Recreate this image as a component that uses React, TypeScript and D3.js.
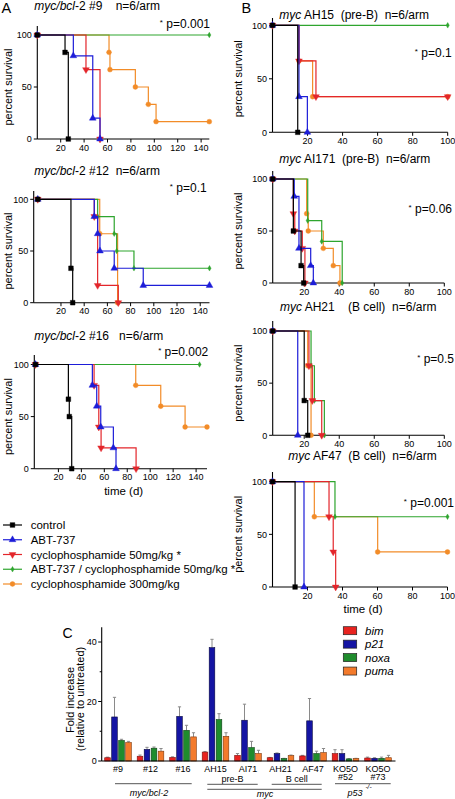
import React from "react";
import * as d3 from "d3";

const FONT = "'Liberation Sans', Arial, Helvetica, sans-serif";

// ---------- survival data: [day, percent survival] (start, each step, end) ----------
const treatmentNames = [
  "control",
  "ABT-737",
  "cyclophosphamide 50mg/kg *",
  "ABT-737 / cyclophosphamide 50mg/kg *",
  "cyclophosphamide 300mg/kg",
];
const treatmentColors = ["#000000", "#1d1dd8", "#e3262b", "#2ea52e", "#f28c28"];

// myc/bcl-2 #9
const bcl9Control = [[0, 100], [23.7, 83.3], [26.5, 0]];
const bcl9Abt = [[0, 100], [30.8, 80], [47.4, 20], [53.6, 0]];
const bcl9Cyc50 = [[0, 100], [41.6, 66.7], [53.6, 0]];
const bcl9Combo = [[0, 100], [147, 100]];
const bcl9Cyc300 = [[0, 100], [61.3, 83.3], [62.1, 66.7], [83.8, 50], [94.9, 33.3], [101.5, 16.7], [147, 16.7]];

// myc/bcl-2 #12
const bcl12Control = [[0, 100], [28.6, 33.3], [30.1, 0]];
const bcl12Abt = [[0, 100], [48.7, 83.3], [51.6, 66.7], [53.6, 50], [65.9, 33.3], [90.9, 16.7], [148, 16.7]];
const bcl12Cyc50 = [[0, 100], [48.7, 83.3], [51.6, 16.7], [69.4, 0]];
const bcl12Combo = [[0, 100], [51.6, 83.3], [65.9, 66.7], [68, 50], [82.9, 33.3], [148, 33.3]];
const bcl12Cyc300 = [[0, 100], [53.4, 66.7], [68.8, 0]];

// myc/bcl-2 #16
const bcl16Control = [[0, 100], [28.7, 66.7], [29.5, 50], [31.6, 0]];
const bcl16Abt = [[0, 100], [49.6, 80], [53.4, 60], [56.9, 40], [67.9, 20], [70.2, 0]];
const bcl16Cyc50 = [[0, 100], [51.1, 80], [55.2, 40], [57.2, 20], [87.7, 0]];
const bcl16Combo = [[0, 100], [143, 100]];
const bcl16Cyc300 = [[0, 100], [87.4, 80], [109.2, 60], [130.4, 40], [149.5, 40]];

// myc AH15 (pre-B)
const ah15Control = [[0, 100], [14.4, 0]];
const ah15Abt = [[0, 100], [15.1, 33.3], [19.9, 0]];
const ah15Cyc50 = [[0, 100], [15.1, 66.7], [24.8, 33.3], [100, 33.3]];
const ah15Combo = [[0, 100], [100, 100]];
const ah15Cyc300 = [[0, 100], [15.1, 66.7], [22.9, 33.3], [100, 33.3]];

// myc AI171 (pre-B)
const ai171Control = [[2, 100], [13.8, 50], [18.2, 16.7], [19.7, 0]];
const ai171Abt = [[2, 100], [14.3, 83.3], [17, 33.3], [23.7, 16.7], [25.2, 0]];
const ai171Cyc50 = [[2, 100], [13.8, 66.7], [14.6, 50], [18.9, 33.3], [20.4, 0]];
const ai171Combo = [[2, 100], [22, 60], [30, 40], [41.7, 0]];
const ai171Cyc300 = [[2, 100], [21.4, 66.7], [22.3, 50], [30.9, 33.3], [36.6, 16.7], [40.4, 0]];

// myc AH21 (B cell)
const ah21Control = [[2, 100], [20, 33.3], [22, 0]];
const ah21Abt = [[2, 100], [16.3, 0]];
const ah21Cyc50 = [[2, 100], [22.7, 66.7], [24.6, 33.3], [30, 0]];
const ah21Combo = [[2, 100], [23.9, 66.7], [25.8, 33.3], [31.5, 0]];
const ah21Cyc300 = [[2, 100], [22, 66.7], [23.9, 0]];

// myc AF47 (B cell)
const af47Control = [[0, 100], [12.9, 0]];
const af47Abt = [[0, 100], [18, 0]];
const af47Cyc50 = [[0, 100], [32.3, 66.7], [34.7, 33.3], [36.1, 0]];
const af47Combo = [[0, 100], [35.7, 66.7], [100, 66.7]];
const af47Cyc300 = [[0, 100], [23.9, 66.7], [60.1, 33.3], [100, 33.3]];

const survivalTicks = [0, 50, 100];

// ---------- bar chart data ----------
const geneNames = ["bim", "p21", "noxa", "puma"];
const geneColors = ["#e8231f", "#1414a3", "#1f8c2d", "#f37a2b"];
const geneStrokes = ["#7a1010", "#07073f", "#0b3f12", "#7f3608"];
const sampleNames = ["#9", "#12", "#16", "AH15", "AI71", "AH21", "AF47", "KO5O", "KO5O"];
const sampleSubNames = ["", "", "", "", "", "", "", "#52", "#73"];
const bimValues = [1.1, 1.6, 1.2, 3.0, 1.9, 1.1, 1.7, 2.5, 1.0];
const p21Values = [14.8, 3.9, 15.0, 38.1, 13.7, 2.5, 13.5, 2.5, 0.9];
const noxaValues = [6.9, 4.3, 10.3, 13.9, 4.5, 0.8, 2.5, 0.7, 0.9];
const pumaValues = [6.2, 3.3, 8.1, 8.3, 2.5, 1.8, 2.8, 0.8, 1.1];
const bimErrors = [0.2, 0.4, 0.2, 0.2, 0.6, 0.1, 0.2, 1.3, 0.3];
const p21Errors = [6.6, 0.7, 3.2, 2.8, 5.4, 0.2, 7.5, 1.3, 0.2];
const noxaErrors = [0.4, 0.4, 1.7, 2.0, 2.1, 0.1, 0.8, 0.1, 0.4];
const pumaErrors = [0.4, 0.9, 1.4, 1.2, 1.1, 0.2, 1.4, 0.1, 0.8];
const barTicks = [0, 20, 40];
const barMinorTicks = [10, 30];

// ---------- layout ----------
type Part = { t: string; i?: boolean };

const panels = [
  {
    series: [bcl9Control, bcl9Abt, bcl9Cyc50, bcl9Combo, bcl9Cyc300],
    xDomain: [0, 147], xRange: [37.3, 209.3], yRange: [139, 35], yTop: 26, xMaxTick: 140,
    titleX: 34.3, titleY: 10,
    title: [{ t: "myc/bcl", i: true }, { t: "-2 #9    n=6/arm" }] as Part[],
    p: "p=0.001", pX: 210, pY: 28, labelX: 11.5,
  },
  {
    series: [bcl12Control, bcl12Abt, bcl12Cyc50, bcl12Combo, bcl12Cyc300],
    xDomain: [-3.5, 148], xRange: [33.7, 209.5], yRange: [302.7, 199.3], yTop: 191, xMaxTick: 140,
    titleX: 34.3, titleY: 175,
    title: [{ t: "myc/bcl", i: true }, { t: "-2 #12  n=6/arm" }] as Part[],
    p: "p=0.1", pX: 206.7, pY: 192, labelX: 11.5,
  },
  {
    series: [bcl16Control, bcl16Abt, bcl16Cyc50, bcl16Combo, bcl16Cyc300],
    xDomain: [-1, 149.5], xRange: [34.3, 207], yRange: [468.7, 364.5], yTop: 355, xMaxTick: 140,
    titleX: 34.3, titleY: 340,
    title: [{ t: "myc/bcl", i: true }, { t: "-2 #16   n=6/arm" }] as Part[],
    p: "p=0.002", pX: 208.3, pY: 356, labelX: 11.5, xLabel: true,
  },
  {
    series: [ah15Control, ah15Abt, ah15Cyc50, ah15Combo, ah15Cyc300],
    xDomain: [0, 100], xRange: [272.5, 447.7], yRange: [132.3, 25.3], yTop: 18, xMaxTick: 100,
    titleX: 279.3, titleY: 18.5,
    title: [{ t: "myc", i: true }, { t: " AH15  (pre-B)  n=6/arm" }] as Part[],
    p: "p=0.1", pX: 451.7, pY: 56.5, labelX: 241.5,
  },
  {
    series: [ai171Control, ai171Abt, ai171Cyc50, ai171Combo, ai171Cyc300],
    xDomain: [2, 100], xRange: [272.7, 444.3], yRange: [283, 179], yTop: 171, xMaxTick: 100,
    titleX: 279.3, titleY: 162.5,
    title: [{ t: "myc", i: true }, { t: " AI171  (pre-B)  n=6/arm" }] as Part[],
    p: "p=0.06", pX: 452, pY: 212.5, labelX: 241.5,
  },
  {
    series: [ah21Control, ah21Abt, ah21Cyc50, ah21Combo, ah21Cyc300],
    xDomain: [2, 100], xRange: [272.7, 444.3], yRange: [435.3, 331], yTop: 321, xMaxTick: 100,
    titleX: 280, titleY: 311,
    title: [{ t: "myc", i: true }, { t: " AH21    (B cell)  n=6/arm" }] as Part[],
    p: "p=0.5", pX: 454, pY: 362.5, labelX: 241.5,
  },
  {
    series: [af47Control, af47Abt, af47Cyc50, af47Combo, af47Cyc300],
    xDomain: [0, 100], xRange: [272.5, 447.5], yRange: [587, 481.7], yTop: 472, xMaxTick: 100,
    titleX: 288.3, titleY: 459.5,
    title: [{ t: "myc", i: true }, { t: " AF47  (B cell)  n=6/arm" }] as Part[],
    p: "p=0.001", pX: 454, pY: 507, labelX: 241.5, xLabel: true,
  },
];

const drawOrder = [4, 3, 2, 1, 0];

function Marker({ k, x, y, color }: { k: number; x: number; y: number; color: string }) {
  const sym =
    k === 0 ? d3.symbol(d3.symbolSquare, 22)
    : k === 1 || k === 2 ? d3.symbol(d3.symbolTriangle, 20)
    : k === 3 ? d3.symbol(d3.symbolDiamond, 9)
    : d3.symbol(d3.symbolCircle, 19);
  const rot = k === 2 ? " rotate(180)" : "";
  return <path d={sym() || ""} transform={`translate(${x},${y})${rot}`} fill={color} stroke={color} strokeWidth={0.4} />;
}

function SurvivalPanel({ cfg }: { cfg: (typeof panels)[number] }) {
  const x = d3.scaleLinear().domain(cfg.xDomain).range(cfg.xRange);
  const y = d3.scaleLinear().domain([0, 100]).range(cfg.yRange);
  const line = d3
    .line<number[]>()
    .x((d) => x(d[0]))
    .y((d) => y(d[1]))
    .curve(d3.curveStepAfter);
  const xt = d3.range(20, cfg.xMaxTick + 1, 20);
  const y0 = y(0);
  const xl = cfg.xRange[0];
  const cy = (y(0) + y(100)) / 2;
  return (
    <g>
      <line x1={xl} x2={xl} y1={cfg.yTop} y2={y0} stroke="#000" strokeWidth={1.1} />
      <line x1={xl} x2={cfg.xRange[1]} y1={y0} y2={y0} stroke="#000" strokeWidth={1.1} />
      {survivalTicks.map((t) => (
        <g key={"y" + t}>
          <line x1={xl - 3.5} x2={xl} y1={y(t)} y2={y(t)} stroke="#000" strokeWidth={1} />
          <text x={xl - 5.5} y={y(t) + 3.2} textAnchor="end" fontSize={9} fontFamily={FONT}>{t}</text>
        </g>
      ))}
      {xt.map((t) => (
        <g key={"x" + t}>
          <line x1={x(t)} x2={x(t)} y1={y0} y2={y0 + 3.5} stroke="#000" strokeWidth={1} />
          <text x={x(t)} y={y0 + 11.5} textAnchor="middle" fontSize={9} fontFamily={FONT}>{t}</text>
        </g>
      ))}
      <text transform={`translate(${cfg.labelX},${cy}) rotate(-90)`} textAnchor="middle" fontSize={11} fontFamily={FONT}>
        percent survival
      </text>
      {cfg.xLabel && (
        <text x={(xl + cfg.xRange[1]) / 2 + 3} y={y0 + 26} textAnchor="middle" fontSize={11.5} fontFamily={FONT}>
          time (d)
        </text>
      )}
      <text x={cfg.titleX} y={cfg.titleY} fontSize={12} fontFamily={FONT} xmlSpace="preserve" style={{ whiteSpace: "pre" }}>
        {cfg.title.map((q, j) => (
          <tspan key={j} fontStyle={q.i ? "italic" : "normal"}>{q.t}</tspan>
        ))}
      </text>
      <text x={cfg.pX} y={cfg.pY} textAnchor="end" fontSize={12} fontFamily={FONT} fill="#000">
        <tspan fontSize={8} dy={-3}>*</tspan>
        <tspan dy={3}>{" " + cfg.p}</tspan>
      </text>
      {drawOrder.map((k) => (
        <g key={"s" + k}>
          <path d={line(cfg.series[k] as number[][]) || ""} fill="none" stroke={treatmentColors[k]} strokeWidth={1.2} />
          {(cfg.series[k] as number[][]).map((d, i) => (
            <Marker key={i} k={k} x={x(d[0])} y={y(d[1])} color={treatmentColors[k]} />
          ))}
        </g>
      ))}
    </g>
  );
}

function SurvivalLegend() {
  const rowY = d3.scaleLinear().domain([0, 4]).range([525, 584]);
  return (
    <g>
      {treatmentNames.map((n, k) => (
        <g key={n}>
          <line x1={3} x2={22} y1={rowY(k)} y2={rowY(k)} stroke={treatmentColors[k]} strokeWidth={1.2} />
          <Marker k={k} x={12.5} y={rowY(k)} color={treatmentColors[k]} />
          <text x={30.7} y={rowY(k) + 4} fontSize={11.5} fontFamily={FONT}>{n}</text>
        </g>
      ))}
    </g>
  );
}

function BarChart() {
  const values = [bimValues, p21Values, noxaValues, pumaValues];
  const errors = [bimErrors, p21Errors, noxaErrors, pumaErrors];
  const x = d3.scaleBand<number>().domain(d3.range(sampleNames.length)).range([101.75, 394.25]).padding(0);
  const sub = d3.scaleBand<string>().domain(geneNames).range([-13.3, 13.3]).paddingInner(0.2);
  const y = d3.scaleLinear().domain([0, 40]).range([761, 642]);
  const axisX = 101.7;
  return (
    <g fontFamily={FONT}>
      <text x={62.5} y={638} fontSize={14}>C</text>
      {sampleNames.map((s, i) => {
        const cx = (x(i) as number) + x.bandwidth() / 2;
        return (
          <g key={i}>
            {geneNames.map((g, k) => {
              const bx = cx + (sub(g) as number);
              const bw = sub.bandwidth();
              const v = values[k][i];
              const e = errors[k][i];
              const top = y(v + e);
              const mid = bx + bw / 2;
              return (
                <g key={g}>
                  <line x1={mid} x2={mid} y1={y(v)} y2={top} stroke="#8a8a8a" strokeWidth={1} />
                  <line x1={mid - 1.6} x2={mid + 1.6} y1={top} y2={top} stroke="#8a8a8a" strokeWidth={1} />
                  <rect x={bx} y={y(v)} width={bw} height={y(0) - y(v)} fill={geneColors[k]} stroke={geneStrokes[k]} strokeWidth={0.6} />
                </g>
              );
            })}
            <text x={cx} y={771.5} textAnchor="middle" fontSize={9}>{s}</text>
            {sampleSubNames[i] && (
              <text x={cx} y={780} textAnchor="middle" fontSize={9}>{sampleSubNames[i]}</text>
            )}
          </g>
        );
      })}
      <line x1={axisX} x2={axisX} y1={y(45)} y2={y(0)} stroke="#000" strokeWidth={1.1} />
      <line x1={axisX} x2={395.5} y1={y(0)} y2={y(0)} stroke="#000" strokeWidth={1.1} />
      {barTicks.map((t) => (
        <g key={t}>
          <line x1={axisX - 3.5} x2={axisX} y1={y(t)} y2={y(t)} stroke="#000" />
          <text x={axisX - 5} y={y(t) + 3.2} textAnchor="end" fontSize={9}>{t}</text>
        </g>
      ))}
      {barMinorTicks.map((t) => (
        <line key={t} x1={axisX - 2} x2={axisX} y1={y(t)} y2={y(t)} stroke="#000" />
      ))}
      <text transform={`translate(74,700) rotate(-90)`} textAnchor="middle" fontSize={11}>Fold increase</text>
      <text transform={`translate(84,699) rotate(-90)`} textAnchor="middle" fontSize={11}>(relative to untreated)</text>
      <g stroke="#555" strokeWidth={1}>
        <line x1={115} x2={191.7} y1={783.7} y2={783.7} />
        <line x1={207.3} x2={257.7} y1={784.3} y2={784.3} />
        <line x1={271.7} x2={321.7} y1={784.3} y2={784.3} />
        <line x1={207.3} x2={321.7} y1={789.3} y2={789.3} />
        <line x1={335} x2={390.7} y1={783.7} y2={783.7} />
      </g>
      <text x={149} y={796} textAnchor="middle" fontSize={9} fontStyle="italic">myc/bcl-2</text>
      <text x={232.5} y={782} textAnchor="middle" fontSize={9}>pre-B</text>
      <text x={296.7} y={782} textAnchor="middle" fontSize={9}>B cell</text>
      <text x={265} y={797} textAnchor="middle" fontSize={9} fontStyle="italic">myc</text>
      <text x={355} y={796} textAnchor="middle" fontSize={9} fontStyle="italic">p53</text>
      <text x={368.5} y={788.5} textAnchor="middle" fontSize={6.5} fontStyle="italic">-/-</text>
      {geneNames.map((g, k) => {
        const ly = 630.7 + k * 13.45;
        return (
          <g key={g}>
            <rect x={343.3} y={ly - 4} width={13.4} height={8} fill={geneColors[k]} stroke="#222" strokeWidth={0.7} />
            <text x={365} y={ly + 4} fontSize={11.5} fontStyle="italic">{g}</text>
          </g>
        );
      })}
    </g>
  );
}

export default function App() {
  return (
    <svg width={455} height={799} viewBox="0 0 455 799" style={{ position: "absolute", left: 0, top: 0, background: "#fff" }}>
      <rect width={455} height={799} fill="#fff" />
      <text x={1.5} y={12.7} fontSize={14.5} fontFamily={FONT}>A</text>
      <text x={241.5} y={12.7} fontSize={14.5} fontFamily={FONT}>B</text>
      {panels.map((p, i) => (
        <SurvivalPanel key={i} cfg={p} />
      ))}
      <SurvivalLegend />
      <BarChart />
    </svg>
  );
}
